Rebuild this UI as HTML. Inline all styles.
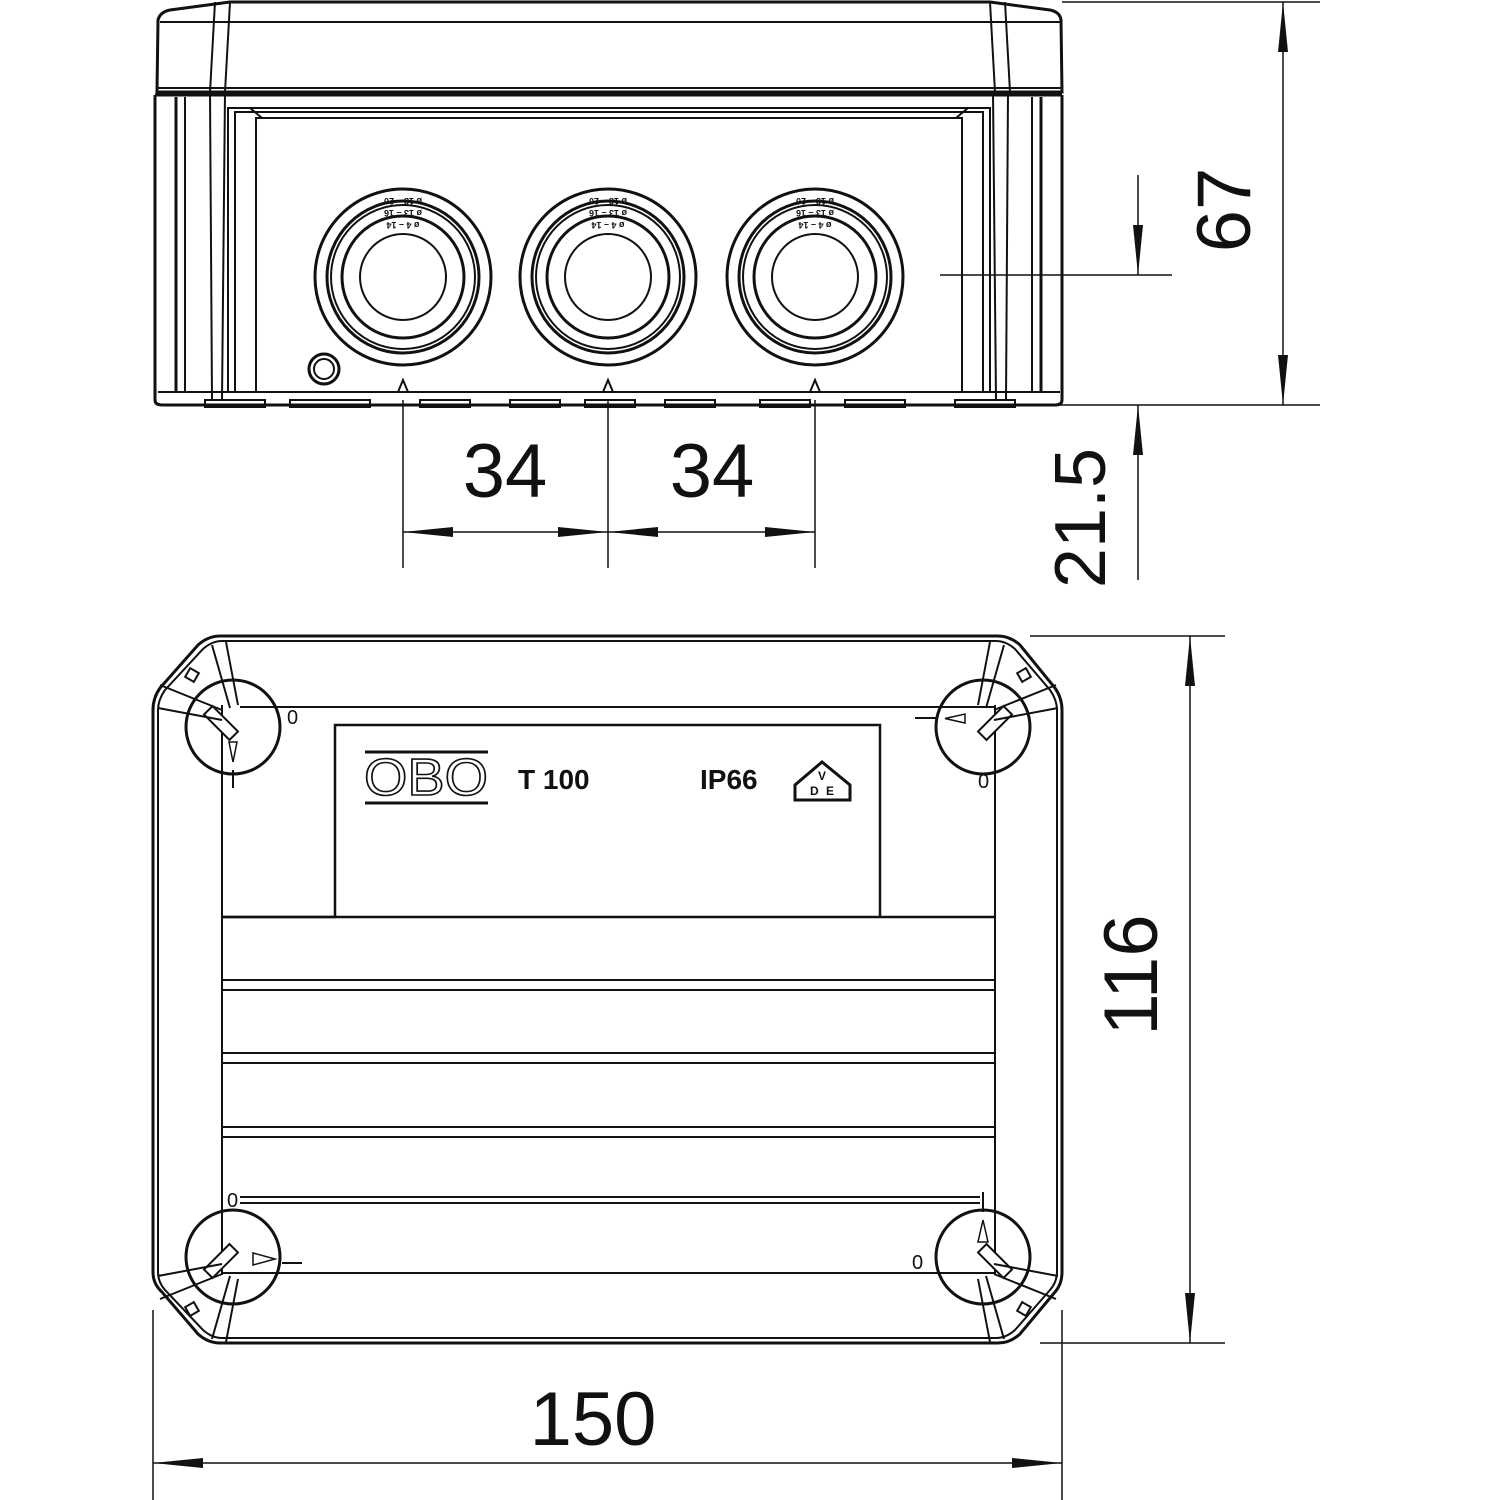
<!DOCTYPE html>
<html><head><meta charset="utf-8"><style>
html,body{margin:0;padding:0;background:#fff}
svg{display:block}
.t{font-family:"Liberation Sans",sans-serif;fill:#111}
</style></head><body>
<svg width="1500" height="1500" viewBox="0 0 1500 1500" fill="none" stroke="#111" stroke-width="2">
<!-- ===== TOP: side elevation ===== -->
<path d="M157 92 L158 20 Q160 12 170 10 L230 2 L990 2 L1050 10 Q1060 12 1061 20 L1062 92 Z" stroke-width="3"/>
<line x1="158" y1="88" x2="1062" y2="88"/>
<line x1="160" y1="22" x2="1060" y2="22"/>
<line x1="230" y1="2" x2="225" y2="92"/><line x1="215" y1="2" x2="210" y2="92"/>
<line x1="990" y1="2" x2="995" y2="92"/><line x1="1005" y1="2" x2="1010" y2="92"/>
<path d="M155 95 L155 400 Q155 405 162 405 L1055 405 Q1062 405 1062 400 L1062 95" stroke-width="3"/>
<line x1="155" y1="95" x2="1062" y2="95" stroke-width="3"/>
<line x1="158" y1="392" x2="1060" y2="392"/>
<line x1="176" y1="97" x2="176" y2="392" stroke-width="3"/><line x1="185" y1="97" x2="185" y2="392"/>
<line x1="1041" y1="97" x2="1041" y2="392" stroke-width="3"/><line x1="1032" y1="97" x2="1032" y2="392"/>
<line x1="210" y1="92" x2="212" y2="400"/><line x1="225" y1="92" x2="222" y2="400"/>
<line x1="1008" y1="92" x2="1006" y2="400"/><line x1="993" y1="92" x2="996" y2="400"/>
<path d="M228 392 L228 108 L990 108 L990 392"/>
<path d="M235 392 L235 112 L983 112 L983 392"/>
<path d="M256 392 L256 118 L962 118 L962 392"/>
<line x1="250" y1="108" x2="262" y2="118"/><line x1="968" y1="108" x2="956" y2="118"/>
<g stroke-width="2">
<rect x="205" y="400" width="60" height="7"/><rect x="290" y="400" width="80" height="7"/>
<rect x="420" y="400" width="50" height="7"/><rect x="510" y="400" width="50" height="7"/>
<rect x="585" y="400" width="50" height="7"/><rect x="665" y="400" width="50" height="7"/>
<rect x="760" y="400" width="50" height="7"/><rect x="845" y="400" width="60" height="7"/>
<rect x="955" y="400" width="60" height="7"/>
</g>
<g id="gl">
<circle cx="403" cy="277" r="88" stroke-width="3"/>
<circle cx="403" cy="277" r="76" stroke-width="3"/>
<circle cx="403" cy="277" r="72"/>
<circle cx="403" cy="277" r="61" stroke-width="3"/>
<circle cx="403" cy="277" r="43" stroke-width="2"/>
</g>
<use href="#gl" x="205"/><use href="#gl" x="412"/>
<g class="t" stroke="none" font-size="9" font-weight="bold" text-anchor="middle" transform="rotate(180 0 0)">
<text x="-403" y="-198">ø 18 – 20</text><text x="-403" y="-210">ø 13 – 16</text><text x="-403" y="-222">ø 4 – 14</text>
<text x="-608" y="-198">ø 18 – 20</text><text x="-608" y="-210">ø 13 – 16</text><text x="-608" y="-222">ø 4 – 14</text>
<text x="-815" y="-198">ø 18 – 20</text><text x="-815" y="-210">ø 13 – 16</text><text x="-815" y="-222">ø 4 – 14</text>
</g>
<circle cx="324" cy="369" r="15" stroke-width="3"/><circle cx="324" cy="369" r="10"/>
<path d="M398 392 L403 380 L408 392"/><path d="M603 392 L608 380 L613 392"/><path d="M810 392 L815 380 L820 392"/>
<g stroke-width="1.5">
<line x1="403" y1="400" x2="403" y2="568"/><line x1="608" y1="400" x2="608" y2="568"/><line x1="815" y1="400" x2="815" y2="568"/>
<line x1="403" y1="532" x2="815" y2="532"/>
<line x1="1040" y1="405" x2="1320" y2="405"/><line x1="1062" y1="2" x2="1320" y2="2"/>
<line x1="1283" y1="2" x2="1283" y2="405"/>
<line x1="1138" y1="175" x2="1138" y2="275"/><line x1="940" y1="275" x2="1172" y2="275"/>
<line x1="1138" y1="405" x2="1138" y2="580"/>
</g>
<g fill="#111" stroke="none">
<path d="M403 532 L453 527 L453 537Z"/><path d="M608 532 L558 527 L558 537Z"/>
<path d="M608 532 L658 527 L658 537Z"/><path d="M815 532 L765 527 L765 537Z"/>
<path d="M1283 2 L1278 52 L1288 52Z"/><path d="M1283 405 L1278 355 L1288 355Z"/>
<path d="M1138 275 L1133 225 L1143 225Z"/><path d="M1138 405 L1133 455 L1143 455Z"/>
</g>
<g class="t" stroke="none" font-size="76" text-anchor="middle">
<text x="505" y="497">34</text><text x="712" y="497">34</text>
<text transform="translate(1250 210) rotate(-90)">67</text>
<text transform="translate(1105 518) rotate(-90)" font-size="72">21.5</text>
</g>

<!-- ===== BOTTOM: plan view ===== -->
<path d="M220 636 L998 636 Q1010 636 1020 645 L1055 688 Q1062 698 1062 710 L1062 1272 Q1062 1284 1055 1292 L1020 1334 Q1010 1343 998 1343 L220 1343 Q208 1343 198 1334 L162 1292 Q153 1284 153 1272 L153 710 Q153 698 160 688 L198 645 Q208 636 220 636Z" stroke-width="3"/>
<path d="M222 641 L996 641 Q1006 641 1015 649 L1050 690 Q1057 700 1057 710 L1057 1272 Q1057 1282 1050 1290 L1015 1330 Q1006 1338 996 1338 L222 1338 Q212 1338 203 1330 L165 1290 Q158 1282 158 1272 L158 710 Q158 700 165 690 L203 649 Q212 641 222 641Z"/>
<line x1="222" y1="705" x2="222" y2="1275"/><line x1="995" y1="705" x2="995" y2="1275"/>
<line x1="240" y1="707" x2="995" y2="707"/>
<path d="M222 917 L335 917 L335 725 L880 725 L880 917" stroke-width="2.5"/>
<line x1="222" y1="917" x2="995" y2="917" stroke-width="2.5"/>
<g stroke-width="2">
<line x1="222" y1="980" x2="995" y2="980"/><line x1="222" y1="990" x2="995" y2="990"/>
<line x1="222" y1="1053" x2="995" y2="1053"/><line x1="222" y1="1063" x2="995" y2="1063"/>
<line x1="222" y1="1127" x2="995" y2="1127"/><line x1="222" y1="1137" x2="995" y2="1137"/>
<line x1="240" y1="1197" x2="980" y2="1197"/><line x1="240" y1="1203" x2="980" y2="1203"/>
<line x1="222" y1="1273" x2="995" y2="1273"/>
</g>
<g id="sc">
<circle cx="233" cy="727" r="47" stroke-width="3"/>
<rect x="215" y="705" width="12" height="36" transform="rotate(-45 221 723)" fill="#fff"/>
<path d="M226 642 L238 705 M212 645 L230 708 M160 685 L222 710 M158 708 L222 720"/>
<rect x="187" y="670" width="10" height="10" transform="rotate(30 192 675)"/>
</g>
<use href="#sc" transform="matrix(-1 0 0 1 1216 0)"/>
<use href="#sc" transform="matrix(1 0 0 -1 0 1984)"/>
<use href="#sc" transform="matrix(-1 0 0 -1 1216 1984)"/>
<path d="M229 742 L237 742 L233 762Z" stroke-width="1.5"/><line x1="233" y1="770" x2="233" y2="788"/>
<path d="M965 714 L965 723 L945 718.5Z" stroke-width="1.5"/><line x1="915" y1="718" x2="937" y2="718"/>
<path d="M253 1253 L253 1265 L275 1259Z" stroke-width="1.5"/><line x1="282" y1="1263" x2="302" y2="1263"/>
<path d="M978 1242 L988 1242 L983 1220Z" stroke-width="1.5"/><line x1="983" y1="1192" x2="983" y2="1212"/>
<g class="t" stroke="none" font-size="20">
<text x="287" y="724">0</text><text x="978" y="788">0</text><text x="227" y="1207">0</text><text x="912" y="1269">0</text>
</g>
<g stroke-width="3"><line x1="365" y1="752" x2="488" y2="752"/><line x1="365" y1="803" x2="488" y2="803"/></g>
<text x="364" y="795" textLength="124" lengthAdjust="spacingAndGlyphs" style="font-family:'Liberation Sans',sans-serif;fill:#fff;stroke:#111;stroke-width:1.6" font-size="52">OBO</text>
<g class="t" stroke="none" font-size="28" font-weight="bold">
<text x="518" y="789">T 100</text><text x="700" y="789">IP66</text>
</g>
<path d="M795 785 L795 800 L850 800 L850 785 L822 762Z" stroke-width="3"/>
<g class="t" stroke="none" font-size="12" font-weight="bold"><text x="818" y="780">V</text><text x="810" y="795">D</text><text x="826" y="795">E</text></g>
<g stroke-width="1.5">
<line x1="1030" y1="636" x2="1225" y2="636"/><line x1="1040" y1="1343" x2="1225" y2="1343"/>
<line x1="1190" y1="636" x2="1190" y2="1343"/>
<line x1="153" y1="1310" x2="153" y2="1500"/><line x1="1062" y1="1310" x2="1062" y2="1500"/>
<line x1="153" y1="1463" x2="1062" y2="1463"/>
</g>
<g fill="#111" stroke="none">
<path d="M1190 636 L1185 686 L1195 686Z"/><path d="M1190 1343 L1185 1293 L1195 1293Z"/>
<path d="M153 1463 L203 1458 L203 1468Z"/><path d="M1062 1463 L1012 1458 L1012 1468Z"/>
</g>
<g class="t" stroke="none" font-size="76" text-anchor="middle">
<text transform="translate(1157 975) rotate(-90)">116</text>
<text x="593" y="1445">150</text>
</g>
</svg>
</body></html>
